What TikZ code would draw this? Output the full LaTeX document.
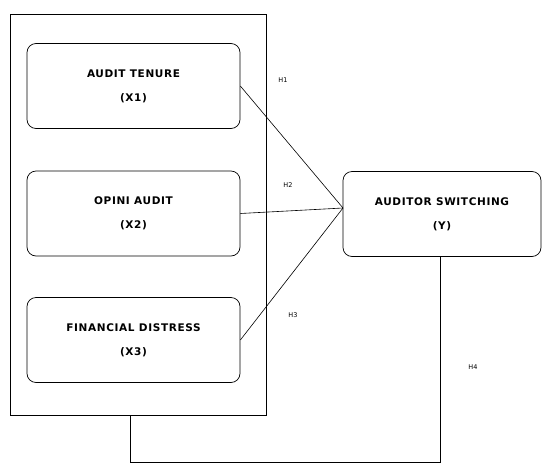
\documentclass[tikz,border=0pt]{standalone}
\usepackage{fontspec}
\setmainfont{DejaVu Sans}
\newfontfamily\varfont[LetterSpace=6]{DejaVu Sans}
\begin{document}
\begin{tikzpicture}[
    x=1pt, y=-1pt,
    var/.style={rectangle, rounded corners=9pt, draw, line width=0.7pt,
      minimum width=213pt, minimum height=85pt, align=center,
      font=\varfont\bfseries\fontsize{10.5}{24}\selectfont},
    grp/.style={rectangle, draw, line width=0.8pt, minimum width=256pt, minimum height=401pt},
    hyp/.style={font=\fontsize{6.5}{8}\selectfont},
    line width=0.6pt
  ]
  \useasboundingbox (0,0) rectangle (544,464);
  \node[grp] (block) at (138,214.5) {};
  \node[var] (x1) at (133.5,86) {AUDIT TENURE\\(X1)};
  \node[var] (x2) at (133.5,213.5) {OPINI AUDIT\\(X2)};
  \node[var] (x3) at (133.5,340) {FINANCIAL DISTRESS\\(X3)};
  \node[var, minimum width=198pt] (y) at (442,214) {AUDITOR SWITCHING\\(Y)};
  \coordinate (join) at (343,208);
  \draw (x1.east) -- (join);
  \draw (x2.east) -- (join);
  \draw (x3.east) -- (join);
  \coordinate (low) at (440,462);
  \coordinate (back) at (130,415);
  \draw (y.south -| low) -- (low) -| (back);
  \node[hyp] (h1) at (283,80) {H1};
  \node[hyp] (h2) at (288,185) {H2};
  \node[hyp] (h3) at (293,315) {H3};
  \node[hyp] (h4) at (473,367) {H4};
\end{tikzpicture}
\end{document}
